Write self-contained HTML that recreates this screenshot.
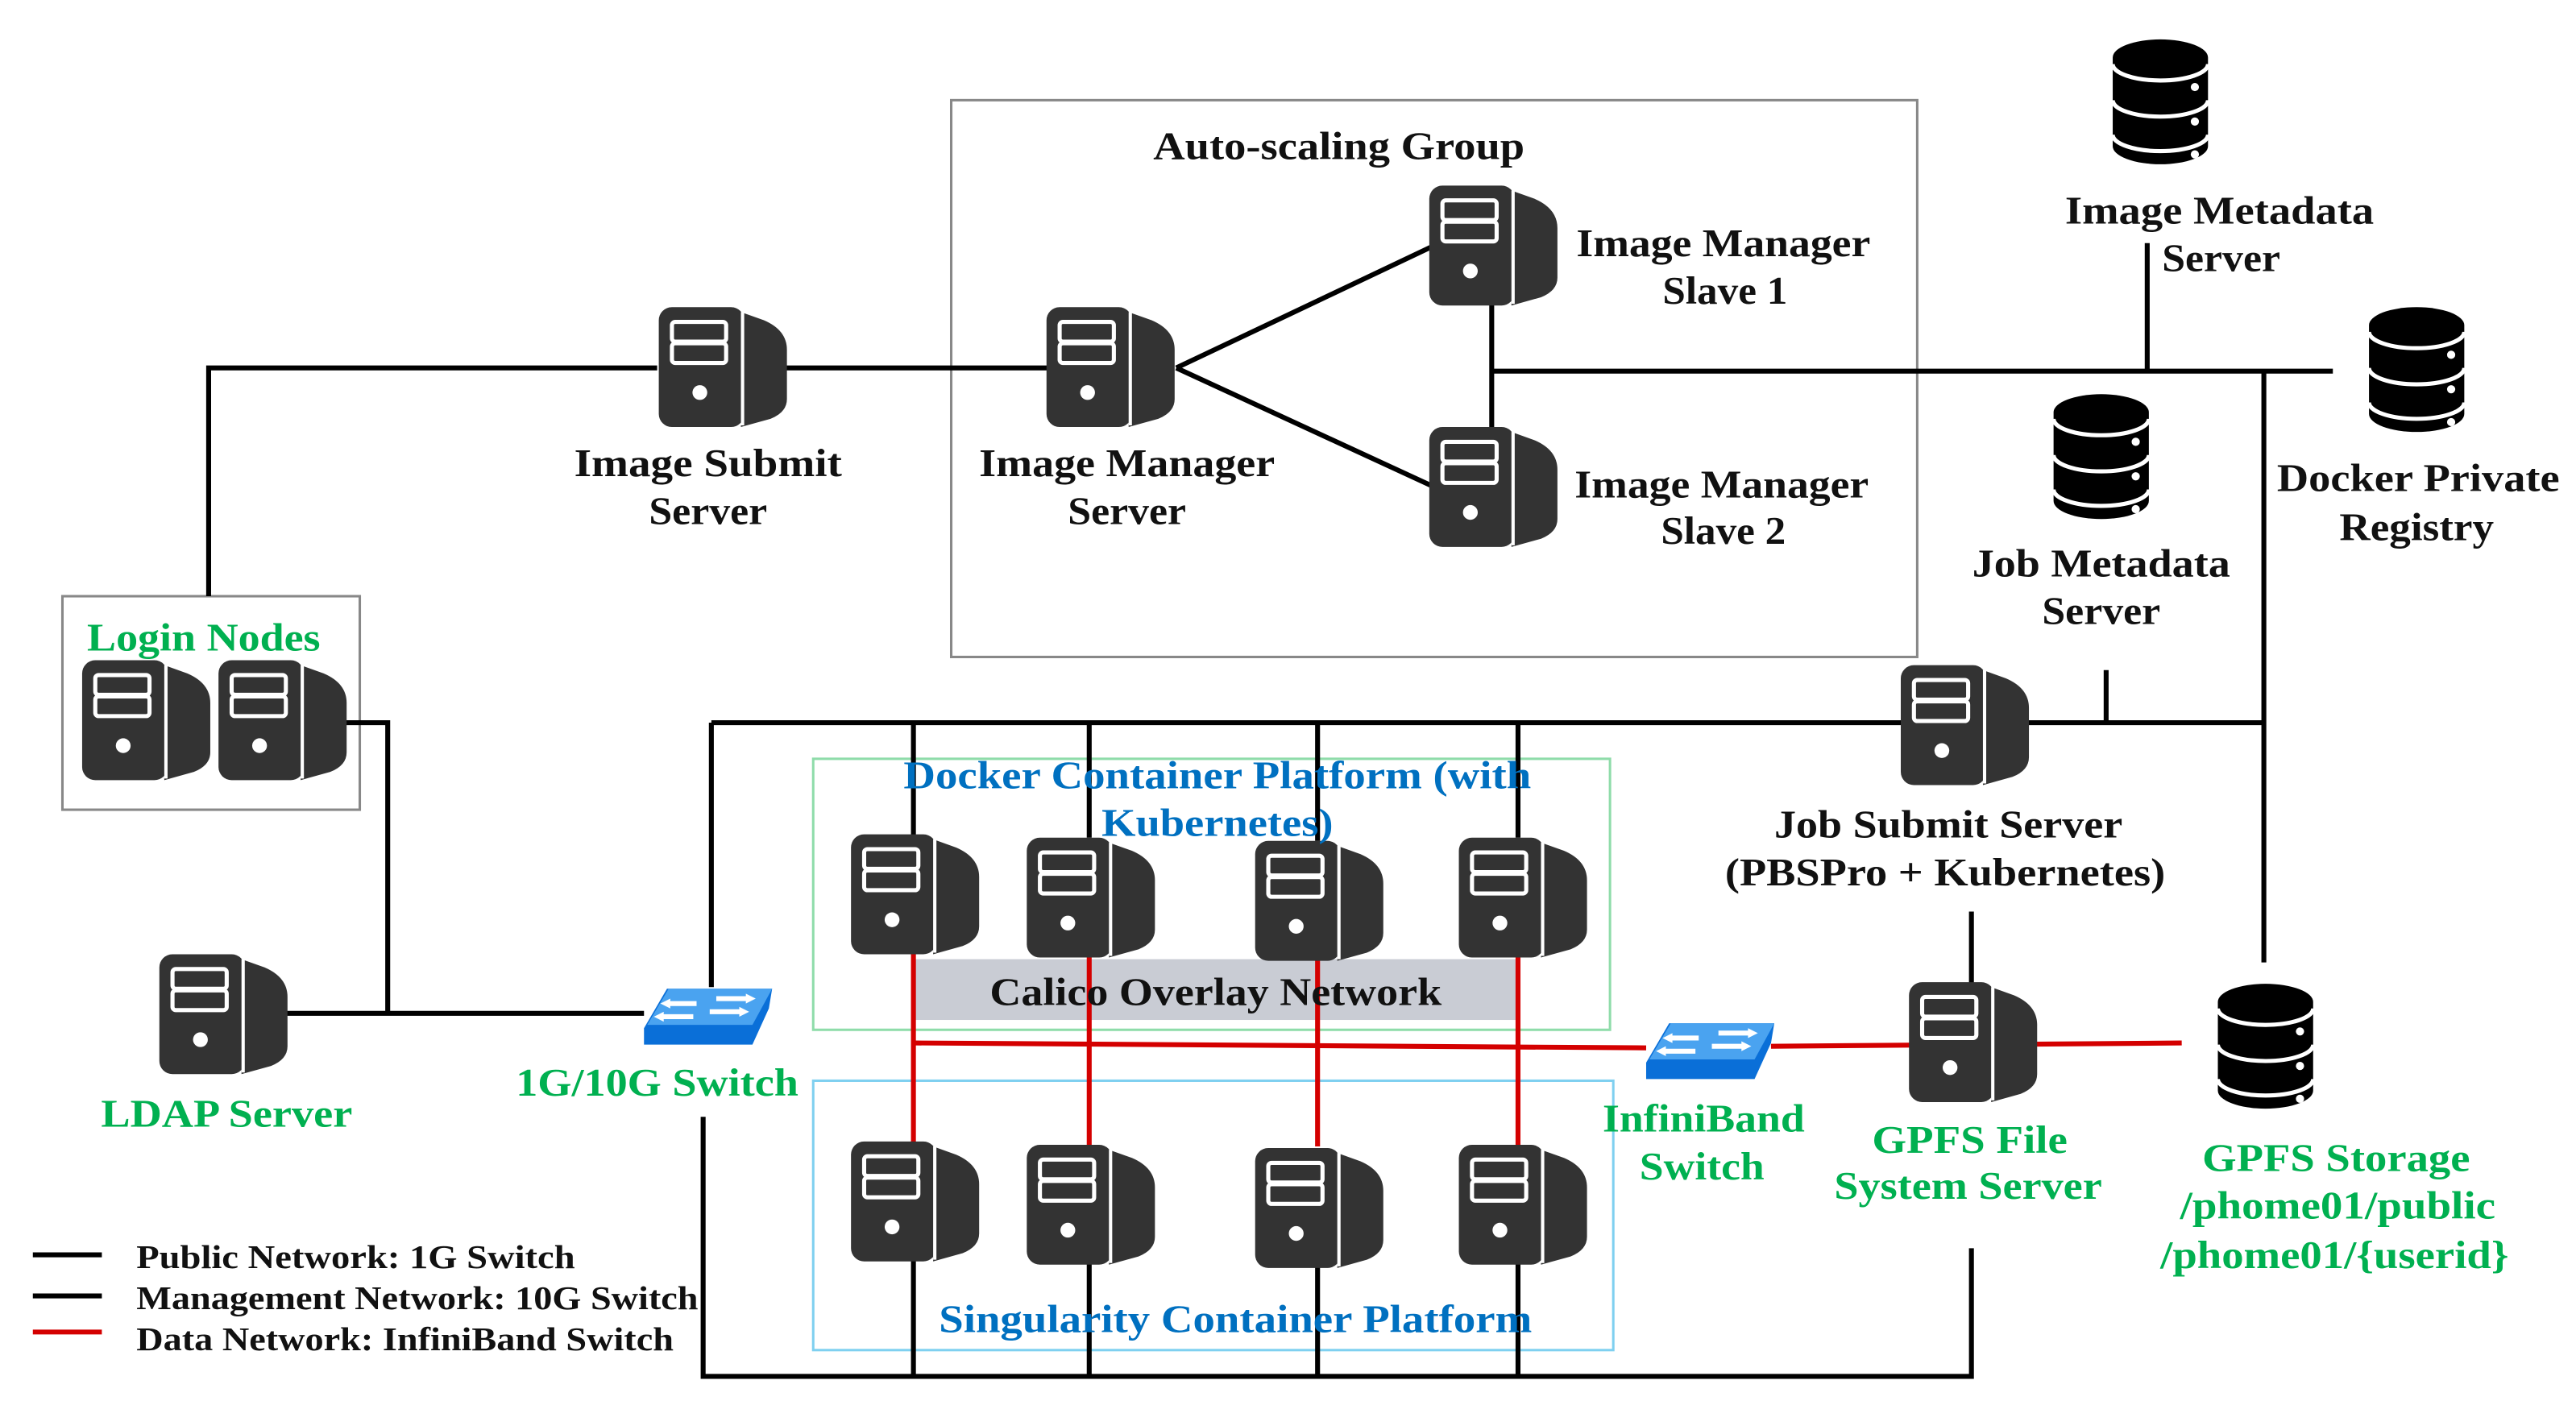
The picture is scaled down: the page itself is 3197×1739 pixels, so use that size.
<!DOCTYPE html>
<html><head><meta charset="utf-8"><style>
html,body{margin:0;padding:0;background:#fff;}
svg{display:block;}
text{font-family:"Liberation Serif",serif;font-weight:bold;}
</style></head><body>
<svg width="3197" height="1739" viewBox="0 0 1568 853" preserveAspectRatio="none" xmlns="http://www.w3.org/2000/svg">
<defs>
<g id="srv">
  <path d="M50,3 L64,8 Q78,14 78,26 L78,56 Q78,64 68,68 L50,73 Z" fill="#333"/>
  <rect x="0" y="0" width="52" height="73" rx="8" fill="#333"/>
  <line x1="51" y1="3" x2="51" y2="72" stroke="#fff" stroke-width="2"/>
  <rect x="8" y="9" width="33" height="12" rx="2" fill="none" stroke="#fff" stroke-width="2.5"/>
  <rect x="8" y="22" width="33" height="12" rx="2" fill="none" stroke="#fff" stroke-width="2.5"/>
  <circle cx="25" cy="52" r="4.5" fill="#fff"/>
</g>
<g id="db">
  <path d="M0,12 A29,11 0 0 1 58,12 L58,66 A29,11 0 0 1 0,66 Z" fill="#000"/>
  <path d="M0,16 A29,10 0 0 0 58,16" fill="none" stroke="#fff" stroke-width="2.5"/>
  <path d="M0,38 A29,10 0 0 0 58,38" fill="none" stroke="#fff" stroke-width="2.5"/>
  <path d="M0,59 A29,10 0 0 0 58,59" fill="none" stroke="#fff" stroke-width="2.5"/>
  <circle cx="50" cy="30" r="2.5" fill="#fff"/>
  <circle cx="50" cy="51" r="2.5" fill="#fff"/>
  <circle cx="50" cy="71" r="2.5" fill="#fff"/>
</g>
<g id="sw">
  <polygon points="0,26 14,2 78,2 76,14 66,36 0,36" fill="#0a6fd8"/>
  <polygon points="2,24 15,2 78,2 66,24" fill="#4aa3f0"/>
  <g stroke="#fff" stroke-width="3" fill="#fff">
    <line x1="14" y1="11" x2="32" y2="11"/><polygon points="10,11 16,8 16,14" stroke="none"/>
    <line x1="44" y1="8" x2="64" y2="8"/><polygon points="68,8 62,5 62,11" stroke="none"/>
    <line x1="10" y1="19" x2="30" y2="19"/><polygon points="6,19 12,16 12,22" stroke="none"/>
    <line x1="40" y1="16" x2="60" y2="16"/><polygon points="64,16 58,13 58,19" stroke="none"/>
  </g>
</g>
</defs>

<!-- boxes -->
<rect x="579" y="61" width="588" height="339" fill="none" stroke="#888" stroke-width="1.5"/>
<rect x="38" y="363" width="181" height="130" fill="none" stroke="#888" stroke-width="1.5"/>
<rect x="495" y="462" width="485" height="165" fill="none" stroke="#8fdcaa" stroke-width="1.5"/>
<rect x="495" y="658" width="487" height="164" fill="none" stroke="#7fd0f0" stroke-width="1.5"/>
<rect x="555" y="584" width="368" height="37" fill="#c9ccd4"/>

<!-- black lines -->
<g stroke="#000" stroke-width="3" fill="none">
  <polyline points="127,363 127,224 400,224"/>
  <line x1="478" y1="224" x2="638" y2="224"/>
  <line x1="716" y1="224" x2="872" y2="150"/>
  <line x1="716" y1="224" x2="872" y2="296"/>
  <line x1="908" y1="184" x2="908" y2="262"/>
  <line x1="908" y1="226" x2="1420" y2="226"/>
  <line x1="1307" y1="148" x2="1307" y2="226"/>
  <line x1="1378" y1="226" x2="1378" y2="586"/>
  <line x1="433" y1="440" x2="1378" y2="440"/>
  <line x1="1282" y1="408" x2="1282" y2="440"/>
  <polyline points="203,440 236,440 236,617"/>
  <line x1="172" y1="617" x2="392" y2="617"/>
  <line x1="433" y1="440" x2="433" y2="601"/>
  <polyline points="428,680 428,838 1200,838 1200,760"/>
  <line x1="1200" y1="555" x2="1200" y2="600"/>
  <line x1="556" y1="440" x2="556" y2="510"/>
  <line x1="663" y1="440" x2="663" y2="510"/>
  <line x1="802" y1="440" x2="802" y2="512"/>
  <line x1="924" y1="440" x2="924" y2="510"/>
  <line x1="556" y1="766" x2="556" y2="838"/>
  <line x1="663" y1="766" x2="663" y2="838"/>
  <line x1="802" y1="766" x2="802" y2="838"/>
  <line x1="924" y1="766" x2="924" y2="838"/>
</g>
<g stroke="#000" stroke-width="1.5">
  <line x1="556" y1="584" x2="556" y2="622"/>
</g>
<!-- red lines -->
<g stroke="#d40000" stroke-width="3" fill="none">
  <line x1="556" y1="580" x2="556" y2="698"/>
  <line x1="663" y1="580" x2="663" y2="698"/>
  <line x1="802" y1="580" x2="802" y2="698"/>
  <line x1="924" y1="580" x2="924" y2="698"/>
  <line x1="556" y1="635" x2="1002" y2="638"/>
  <line x1="1078" y1="637" x2="1328" y2="635"/>
</g>

<!-- servers -->
<use href="#srv" x="401" y="187"/>
<use href="#srv" x="637" y="187"/>
<use href="#srv" x="870" y="113"/>
<use href="#srv" x="870" y="260"/>
<use href="#srv" x="50" y="402"/>
<use href="#srv" x="133" y="402"/>
<use href="#srv" x="97" y="581"/>
<use href="#srv" x="1157" y="405"/>
<use href="#srv" x="1162" y="598"/>
<use href="#srv" x="518" y="508"/>
<use href="#srv" x="625" y="510"/>
<use href="#srv" x="764" y="512"/>
<use href="#srv" x="888" y="510"/>
<use href="#srv" x="518" y="695"/>
<use href="#srv" x="625" y="697"/>
<use href="#srv" x="764" y="699"/>
<use href="#srv" x="888" y="697"/>
<!-- dbs -->
<use href="#db" x="1286" y="23"/>
<use href="#db" x="1442" y="186"/>
<use href="#db" x="1250" y="239"/>
<use href="#db" x="1350" y="598"/>
<!-- switches -->
<use href="#sw" x="392" y="600"/>
<use href="#sw" x="1002" y="621"/>

<!-- labels -->
<g font-size="24" fill="#111" text-anchor="middle" lengthAdjust="spacingAndGlyphs">
  <text x="815" y="97" textLength="226" lengthAdjust="spacingAndGlyphs">Auto-scaling Group</text>
  <text x="431" y="290" textLength="163" lengthAdjust="spacingAndGlyphs">Image Submit</text>
  <text x="431" y="319" textLength="72" lengthAdjust="spacingAndGlyphs">Server</text>
  <text x="686" y="290" textLength="180" lengthAdjust="spacingAndGlyphs">Image Manager</text>
  <text x="686" y="319" textLength="72" lengthAdjust="spacingAndGlyphs">Server</text>
  <text x="1049" y="156" textLength="179" lengthAdjust="spacingAndGlyphs">Image Manager</text>
  <text x="1050" y="185" textLength="76" lengthAdjust="spacingAndGlyphs">Slave 1</text>
  <text x="1048" y="303" textLength="179" lengthAdjust="spacingAndGlyphs">Image Manager</text>
  <text x="1049" y="331" textLength="76" lengthAdjust="spacingAndGlyphs">Slave 2</text>
  <text x="1351" y="136" textLength="188" lengthAdjust="spacingAndGlyphs">Image Metadata</text>
  <text x="1352" y="165" textLength="72" lengthAdjust="spacingAndGlyphs">Server</text>
  <text x="1472" y="299" textLength="172" lengthAdjust="spacingAndGlyphs">Docker Private</text>
  <text x="1471" y="329" textLength="94" lengthAdjust="spacingAndGlyphs">Registry</text>
  <text x="1279" y="351" textLength="157" lengthAdjust="spacingAndGlyphs">Job Metadata</text>
  <text x="1279" y="380" textLength="72" lengthAdjust="spacingAndGlyphs">Server</text>
  <text x="1186" y="510" textLength="212" lengthAdjust="spacingAndGlyphs">Job Submit Server</text>
  <text x="1184" y="539" textLength="268" lengthAdjust="spacingAndGlyphs">(PBSPro + Kubernetes)</text>
  <text x="740" y="612" textLength="275" lengthAdjust="spacingAndGlyphs">Calico Overlay Network</text>
</g>
<g font-size="24" fill="#00b050" text-anchor="middle">
  <text x="124" y="396" textLength="142" lengthAdjust="spacingAndGlyphs">Login Nodes</text>
  <text x="138" y="686" textLength="153" lengthAdjust="spacingAndGlyphs">LDAP Server</text>
  <text x="400" y="667" textLength="172" lengthAdjust="spacingAndGlyphs">1G/10G Switch</text>
  <text x="1037" y="689" textLength="123" lengthAdjust="spacingAndGlyphs">InfiniBand</text>
  <text x="1036" y="718" textLength="76" lengthAdjust="spacingAndGlyphs">Switch</text>
  <text x="1199" y="702" textLength="119" lengthAdjust="spacingAndGlyphs">GPFS File</text>
  <text x="1198" y="730" textLength="163" lengthAdjust="spacingAndGlyphs">System Server</text>
  <text x="1422" y="713" textLength="163" lengthAdjust="spacingAndGlyphs">GPFS Storage</text>
  <text x="1423" y="742" textLength="192" lengthAdjust="spacingAndGlyphs">/phome01/public</text>
  <text x="1421" y="772" textLength="212" lengthAdjust="spacingAndGlyphs">/phome01/{userid}</text>
</g>
<g font-size="24" fill="#0070c0" text-anchor="middle">
  <text x="741" y="480" textLength="382" lengthAdjust="spacingAndGlyphs">Docker Container Platform (with</text>
  <text x="741" y="509" textLength="141" lengthAdjust="spacingAndGlyphs">Kubernetes)</text>
  <text x="752" y="811" textLength="361" lengthAdjust="spacingAndGlyphs">Singularity Container Platform</text>
</g>

<!-- legend -->
<g stroke-width="3">
  <line x1="20" y1="764" x2="62" y2="764" stroke="#000"/>
  <line x1="20" y1="789" x2="62" y2="789" stroke="#000"/>
  <line x1="20" y1="811" x2="62" y2="811" stroke="#d40000"/>
</g>
<g font-size="20" fill="#111">
  <text x="83" y="772" textLength="267" lengthAdjust="spacingAndGlyphs">Public Network: 1G Switch</text>
  <text x="83" y="797" textLength="342" lengthAdjust="spacingAndGlyphs">Management Network: 10G Switch</text>
  <text x="83" y="822" textLength="327" lengthAdjust="spacingAndGlyphs">Data Network: InfiniBand Switch</text>
</g>
</svg>
</body></html>
